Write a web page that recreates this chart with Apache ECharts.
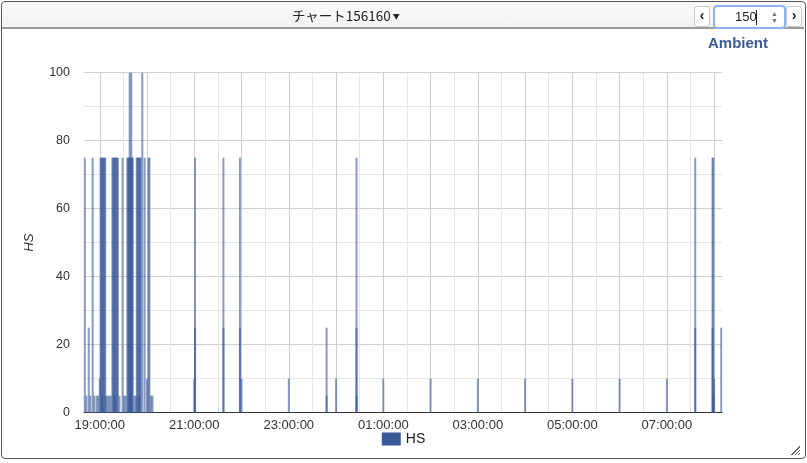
<!DOCTYPE html>
<html>
<head>
<meta charset="utf-8">
<script src="https://cdn.jsdelivr.net/npm/echarts@6/dist/echarts.min.js"></script>
<style>
html,body{margin:0;padding:0;width:807px;height:463px;overflow:hidden;background:#fff;font-family:"Liberation Sans",Arial,sans-serif;}
#chart{position:absolute;left:0;top:0;width:807px;height:463px;}
#frame{position:absolute;left:1px;top:1px;width:803px;height:456px;border:1px solid #555;border-radius:4px;pointer-events:none;z-index:3;}
#hdr{position:absolute;left:2px;top:2px;width:802px;height:25px;background:linear-gradient(#fafafa,#f2f2f2);border-bottom:2px solid #9a9a9a;z-index:2;border-radius:3px 3px 0 0;}
#ttl{position:absolute;left:290px;top:5px;font-family:"Noto Sans CJK JP","Noto Sans",sans-serif;font-size:13.5px;color:#222;line-height:16px;}
#ttl .car{font-size:7px;vertical-align:2px;margin-left:2px;}
.btn{position:absolute;top:4px;width:14px;height:19px;border:1px solid #c8c8c8;border-radius:3px;background:#fff;font-size:14px;font-weight:bold;line-height:17px;text-align:center;color:#222;}
#inp{position:absolute;left:711px;top:3px;width:69px;height:20px;border:2px solid #8db3f0;border-radius:4px;background:#fff;}
#inp .v{position:absolute;left:20px;top:2px;font-size:13px;color:#222;font-family:"Liberation Sans",Arial,sans-serif;}
#inp .caret{position:absolute;left:41px;top:3px;width:1px;height:15px;background:#222;}
#inp .sp{position:absolute;left:56px;top:3px;font-size:7px;line-height:7px;color:#777;}
#grip{position:absolute;left:791px;top:446px;width:9px;height:9px;z-index:4;
background:linear-gradient(135deg,transparent 48%,#666 48%,#666 56%,transparent 56%,transparent 68%,#666 68%,#666 76%,transparent 76%,transparent 86%,#666 86%,#666 94%,transparent 94%);}
</style>
</head>
<body>
<div id="chart"></div>
<div id="hdr">
  <div id="ttl">チャート156160<span class="car">▼</span></div>
  <div class="btn" style="left:692px;">‹</div>
  <div id="inp"><span class="v">150</span><span class="caret"></span><span class="sp">▲<br>▼</span></div>
  <div class="btn" style="left:784px;">›</div>
</div>
<div id="frame"></div>
<div id="grip"></div>
<script>
// ---- data ----
const seriesName = "HS";
const chartTitle = "Ambient";
const times = [
  "18:41","18:43","18:46","18:48","18:51","18:53","18:56","18:58",
  "19:00","19:01","19:02","19:03","19:03","19:04","19:05","19:06","19:07","19:08","19:10","19:12","19:14",
  "19:16","19:17","19:18","19:19","19:19","19:20","19:21","19:22","19:23","19:25","19:29","19:31","19:33",
  "19:35","19:36","19:37","19:38","19:38","19:39","19:39","19:40","19:40","19:41","19:42","19:44","19:46",
  "19:47","19:48","19:49","19:50","19:50","19:51","19:52","19:54","19:57","20:00","20:02","20:03","20:05","20:07",
  "21:00","21:01","21:01","21:37","21:37","21:58","21:58","22:00",
  "23:00","23:48","23:48","00:00","00:26","00:26","00:26",
  "01:00","02:00","03:00","04:00","05:00","06:00","07:00",
  "07:36","07:36","07:58","07:58","07:59","07:59","08:00","08:09"
];
const hsValues = [
  75,5,25,5,75,5,5,5,
  10,75,75,75,5,75,75,75,75,5,5,5,5,
  75,75,75,75,5,75,75,75,75,5,75,5,5,
  75,75,75,100,75,75,5,100,75,75,75,5,5,
  75,75,75,75,5,75,75,100,75,10,75,75,5,5,
  10,75,25,75,25,75,25,10,
  10,25,5,10,75,25,5,
  10,10,10,10,10,10,10,
  75,25,75,25,75,5,10,25
];
const axisStart = "18:40";
const axisEnd = "08:10";
const yTicks = [0, 20, 40, 60, 80, 100];

// minutes relative to 19:00 (times before noon belong to the next day)
function toMin(s){
  const [h,m] = s.split(":").map(Number);
  let t = h*60 + m;
  if (h < 12) t += 1440;
  return t - 1140;
}
function fmt(v){
  const t = ((1140 + v) % 1440 + 1440) % 1440;
  const h = Math.floor(t/60), m = t%60;
  return String(h).padStart(2,"0")+":"+String(m).padStart(2,"0")+":00";
}
const data = times.map((t,i)=>[toMin(t), hsValues[i]]);
const T = 'rgba(0,0,0,0)';
const chart = echarts.init(document.getElementById('chart'));
chart.setOption({
  animation:false,
  textStyle:{fontFamily:'"Liberation Sans", Arial, sans-serif'},
  title:{text:chartTitle,right:34,top:31,textStyle:{fontSize:15,fontWeight:'bold',color:'#3b5a98'}},
  legend:{bottom:12,left:'center',icon:'rect',itemWidth:19,itemHeight:13,itemGap:8,
    itemStyle:{opacity:1,color:'#3b5998'},
    textStyle:{fontSize:14,color:'#222'},data:[seriesName]},
  grid:{left:84,right:85,top:72.7,bottom:50.3,containLabel:false},
  xAxis:{type:'value',min:toMin(axisStart),max:toMin(axisEnd),interval:10,
    axisLine:{show:true,onZero:false,lineStyle:{color:'#333',width:1}},
    axisTick:{show:false},
    axisLabel:{margin:6,fontSize:13,color:'#333',showMinLabel:true,showMaxLabel:true,
      formatter:v=> (v % 120 === 0) ? fmt(v) : ''},
    splitLine:{show:true,lineStyle:{color:[T,T,'#cfcfcf',T,T,'#e6e6e6'],width:1}}
  },
  yAxis:{type:'value',min:0,max:100,interval:10,
    name:seriesName,nameLocation:'middle',nameGap:48,
    nameTextStyle:{fontStyle:'italic',fontSize:13,color:'#333'},
    axisLine:{show:false},axisTick:{show:false},
    axisLabel:{margin:14,fontSize:12.5,color:'#333',formatter:v=> yTicks.includes(v) ? String(v) : ''},
    splitLine:{show:true,lineStyle:{color:['#cfcfcf','#e6e6e6'],width:1}}
  },
  series:[{
    name:seriesName,type:'bar',barWidth:2,data:data,
    itemStyle:{color:'#3b5998',opacity:0.6},
    emphasis:{disabled:true}
  }]
});
</script>
</body>
</html>
